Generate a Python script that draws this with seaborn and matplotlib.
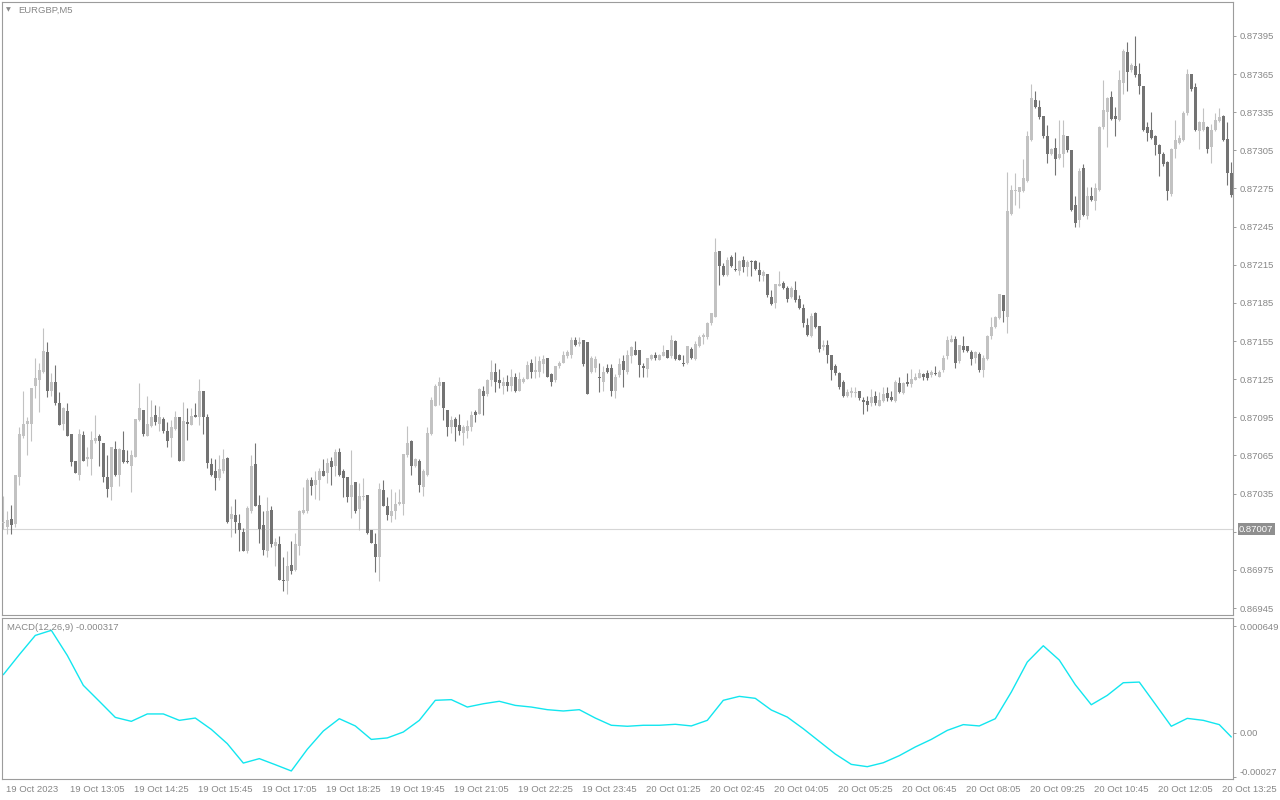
import numpy as np
import pandas as pd
import matplotlib
matplotlib.use("Agg")
import matplotlib.pyplot as plt
import matplotlib.transforms as mtransforms
import seaborn as sns

SYMBOL = "EURGBP,M5"
MACD_TEXT = "MACD(12,26,9) -0.000317"
BID = 0.87007

# OHLC of each M5 bar, in 1e-5 (points)
opens = [
    87012, 87009, 87015, 87011, 87048, 87080, 87090, 87090, 87120, 87124,
    87131, 87146, 87116, 87123, 87106, 87090, 87100, 87082, 87061, 87050,
    87081, 87062, 87062, 87076, 87080, 87075, 87048, 87040, 87070, 87050,
    87069, 87061, 87057, 87064, 87093, 87101, 87080, 87088, 87097, 87090,
    87094, 87084, 87079, 87086, 87095, 87061, 87091, 87089, 87097, 87095,
    87116, 87095, 87058, 87053, 87047, 87053, 87063, 87015, 87018, 87012,
    87005, 86990, 87021, 87058, 87026, 87010, 86990, 87022, 86994, 86995,
    86967, 86966, 86979, 86975, 86994, 87020, 87021, 87046, 87042, 87046,
    87053, 87051, 87061, 87057, 87068, 87053, 87048, 87032, 87044, 87023,
    87032, 87034, 87006, 86995, 86985, 87038, 87025, 87017, 87021, 87027,
    87027, 87065, 87076, 87057, 87061, 87040, 87050, 87082, 87104, 87120,
    87123, 87101, 87087, 87094, 87089, 87083, 87084, 87087, 87099, 87098,
    87116, 87113, 87124, 87131, 87124, 87120, 87123, 87120, 87127, 87116,
    87123, 87125, 87138, 87131, 87131, 87137, 87142, 87129, 87124, 87135,
    87138, 87143, 87144, 87156, 87153, 87156, 87154, 87131, 87134, 87127,
    87123, 87134, 87134, 87116, 87128, 87139, 87131, 87143, 87148, 87148,
    87135, 87133, 87141, 87144, 87140, 87143, 87148, 87143, 87155, 87144,
    87138, 87138, 87149, 87141, 87151, 87158, 87158, 87169, 87174, 87226,
    87214, 87207, 87221, 87212, 87210, 87219, 87213, 87218, 87218, 87211,
    87206, 87208, 87190, 87185, 87198, 87201, 87197, 87190, 87195, 87188,
    87181, 87168, 87159, 87177, 87167, 87150, 87152, 87144, 87135, 87130,
    87123, 87112, 87114, 87114, 87116, 87109, 87108, 87106, 87112, 87104,
    87108, 87114, 87111, 87108, 87122, 87114, 87123, 87121, 87124, 87126,
    87129, 87130, 87128, 87130, 87127, 87132, 87143, 87154, 87157, 87139,
    87151, 87151, 87146, 87142, 87145, 87132, 87141, 87159, 87166, 87173,
    87191, 87174, 87255, 87273, 87272, 87273, 87281, 87313, 87345, 87339,
    87332, 87316, 87302, 87307, 87299, 87302, 87316, 87305, 87262, 87250,
    87291, 87253, 87269, 87265, 87274, 87323, 87335, 87347, 87332, 87329,
    87358, 87382, 87368, 87371, 87365, 87356, 87323, 87321, 87316, 87309,
    87302, 87296, 87271, 87306, 87311, 87313, 87334, 87365, 87355, 87320,
    87321, 87323, 87308, 87321, 87328, 87332, 87314, 87287,
]
highs = [
    87033, 87021, 87026, 87050, 87087, 87116, 87095, 87118, 87142, 87138,
    87165, 87154, 87130, 87136, 87115, 87103, 87106, 87082, 87061, 87086,
    87084, 87072, 87084, 87097, 87082, 87075, 87065, 87072, 87076, 87071,
    87084, 87069, 87069, 87094, 87122, 87101, 87112, 87109, 87105, 87104,
    87095, 87091, 87093, 87100, 87095, 87107, 87102, 87102, 87106, 87125,
    87116, 87098, 87063, 87062, 87065, 87070, 87064, 87025, 87031, 87019,
    87008, 87025, 87065, 87075, 87034, 87021, 87032, 87025, 87000, 87002,
    86985, 86990, 86998, 87004, 87022, 87040, 87047, 87048, 87053, 87055,
    87062, 87063, 87064, 87070, 87071, 87054, 87048, 87069, 87044, 87043,
    87047, 87034, 87006, 87004, 87043, 87046, 87032, 87039, 87036, 87039,
    87066, 87088, 87077, 87063, 87062, 87054, 87087, 87111, 87121, 87127,
    87123, 87101, 87096, 87095, 87098, 87089, 87093, 87100, 87101, 87118,
    87120, 87125, 87140, 87138, 87133, 87127, 87128, 87133, 87130, 87131,
    87127, 87139, 87141, 87143, 87143, 87144, 87142, 87130, 87135, 87139,
    87147, 87148, 87158, 87158, 87158, 87156, 87154, 87143, 87143, 87138,
    87135, 87137, 87137, 87129, 87142, 87144, 87148, 87151, 87155, 87148,
    87138, 87142, 87145, 87146, 87145, 87152, 87148, 87160, 87156, 87145,
    87144, 87151, 87150, 87155, 87160, 87161, 87170, 87177, 87236, 87226,
    87216, 87221, 87223, 87225, 87219, 87222, 87219, 87219, 87219, 87217,
    87211, 87208, 87195, 87200, 87210, 87202, 87198, 87198, 87202, 87191,
    87184, 87173, 87177, 87178, 87167, 87156, 87156, 87144, 87137, 87131,
    87124, 87117, 87119, 87119, 87116, 87111, 87112, 87117, 87116, 87115,
    87119, 87119, 87116, 87124, 87127, 87123, 87130, 87133, 87130, 87133,
    87130, 87132, 87132, 87135, 87132, 87144, 87159, 87160, 87159, 87152,
    87159, 87151, 87148, 87147, 87146, 87144, 87160, 87174, 87175, 87192,
    87191, 87288, 87278, 87287, 87276, 87298, 87320, 87357, 87352, 87345,
    87332, 87325, 87307, 87315, 87329, 87329, 87316, 87305, 87269, 87291,
    87294, 87276, 87276, 87279, 87324, 87360, 87347, 87352, 87339, 87368,
    87385, 87390, 87374, 87395, 87374, 87356, 87327, 87335, 87317, 87310,
    87304, 87297, 87307, 87329, 87317, 87336, 87369, 87365, 87358, 87328,
    87338, 87324, 87326, 87334, 87338, 87333, 87327, 87296,
]
lows = [
    87007, 87003, 87003, 87009, 87042, 87079, 87065, 87076, 87110, 87099,
    87130, 87111, 87112, 87105, 87089, 87085, 87080, 87057, 87051, 87046,
    87061, 87057, 87050, 87075, 87057, 87044, 87032, 87030, 87049, 87041,
    87059, 87059, 87036, 87064, 87092, 87080, 87080, 87087, 87089, 87084,
    87083, 87072, 87064, 87085, 87061, 87061, 87077, 87089, 87095, 87089,
    87082, 87055, 87049, 87038, 87046, 87051, 87012, 87001, 87004, 86990,
    86990, 86988, 87020, 87025, 86996, 86987, 86985, 86993, 86978, 86967,
    86958, 86956, 86972, 86974, 86987, 87019, 87020, 87034, 87031, 87030,
    87049, 87043, 87042, 87049, 87049, 87032, 87028, 87016, 87020, 87006,
    87030, 87003, 86996, 86973, 86966, 87025, 87014, 87013, 87015, 87026,
    87018, 87064, 87050, 87056, 87036, 87033, 87049, 87081, 87104, 87105,
    87093, 87080, 87083, 87076, 87081, 87073, 87079, 87084, 87091, 87098,
    87097, 87112, 87120, 87115, 87118, 87113, 87116, 87116, 87115, 87116,
    87122, 87125, 87126, 87126, 87127, 87130, 87127, 87120, 87123, 87134,
    87138, 87142, 87142, 87151, 87151, 87135, 87113, 87130, 87131, 87115,
    87116, 87130, 87112, 87110, 87127, 87119, 87129, 87138, 87144, 87127,
    87127, 87127, 87140, 87140, 87140, 87143, 87142, 87142, 87140, 87140,
    87135, 87137, 87141, 87140, 87150, 87153, 87157, 87168, 87174, 87199,
    87206, 87206, 87213, 87210, 87207, 87209, 87206, 87206, 87211, 87202,
    87202, 87190, 87183, 87181, 87198, 87196, 87186, 87189, 87186, 87180,
    87166, 87159, 87158, 87165, 87146, 87148, 87138, 87124, 87128, 87117,
    87111, 87111, 87111, 87111, 87109, 87098, 87100, 87104, 87105, 87104,
    87107, 87108, 87108, 87107, 87114, 87113, 87120, 87119, 87124, 87126,
    87124, 87124, 87127, 87128, 87127, 87131, 87141, 87154, 87134, 87138,
    87146, 87146, 87136, 87138, 87131, 87127, 87140, 87157, 87165, 87172,
    87170, 87161, 87254, 87262, 87260, 87272, 87280, 87312, 87338, 87330,
    87315, 87295, 87301, 87286, 87298, 87292, 87304, 87257, 87245, 87245,
    87253, 87251, 87265, 87258, 87273, 87322, 87308, 87329, 87316, 87328,
    87349, 87352, 87367, 87363, 87349, 87320, 87312, 87314, 87301, 87285,
    87293, 87266, 87269, 87299, 87310, 87312, 87333, 87352, 87320, 87306,
    87320, 87303, 87295, 87320, 87327, 87312, 87278, 87268,
]
closes = [
    87012, 87014, 87010, 87050, 87082, 87090, 87092, 87118, 87126, 87132,
    87147, 87116, 87123, 87106, 87089, 87102, 87080, 87060, 87051, 87082,
    87061, 87064, 87077, 87079, 87076, 87048, 87039, 87072, 87050, 87070,
    87060, 87060, 87065, 87094, 87102, 87082, 87090, 87095, 87091, 87095,
    87084, 87076, 87087, 87095, 87061, 87092, 87090, 87096, 87095, 87116,
    87095, 87059, 87050, 87047, 87054, 87062, 87013, 87019, 87013, 87006,
    86990, 87024, 87057, 87025, 87007, 86991, 87021, 86995, 86997, 86967,
    86966, 86978, 86974, 86995, 87021, 87022, 87046, 87041, 87046, 87053,
    87049, 87059, 87056, 87068, 87050, 87047, 87032, 87042, 87021, 87033,
    87033, 87004, 86996, 86985, 87039, 87025, 87018, 87021, 87027, 87028,
    87066, 87075, 87057, 87062, 87042, 87053, 87083, 87109, 87120, 87123,
    87102, 87087, 87093, 87087, 87084, 87087, 87088, 87097, 87097, 87117,
    87112, 87124, 87131, 87123, 87122, 87123, 87120, 87127, 87116, 87125,
    87125, 87136, 87131, 87132, 87139, 87141, 87127, 87123, 87135, 87138,
    87144, 87146, 87156, 87152, 87154, 87137, 87113, 87142, 87141, 87126,
    87131, 87131, 87116, 87127, 87137, 87132, 87144, 87150, 87144, 87136,
    87134, 87142, 87144, 87142, 87144, 87146, 87142, 87156, 87141, 87140,
    87137, 87151, 87142, 87153, 87158, 87160, 87169, 87177, 87225, 87214,
    87207, 87219, 87214, 87211, 87218, 87213, 87217, 87217, 87212, 87207,
    87209, 87191, 87184, 87200, 87200, 87197, 87188, 87197, 87187, 87181,
    87169, 87160, 87175, 87166, 87149, 87152, 87144, 87132, 87130, 87119,
    87112, 87115, 87116, 87115, 87110, 87107, 87105, 87111, 87106, 87109,
    87113, 87110, 87109, 87123, 87115, 87122, 87121, 87125, 87127, 87130,
    87127, 87126, 87131, 87129, 87131, 87142, 87156, 87157, 87138, 87152,
    87148, 87147, 87141, 87146, 87132, 87142, 87159, 87166, 87174, 87192,
    87179, 87257, 87274, 87274, 87276, 87283, 87316, 87346, 87339, 87331,
    87316, 87302, 87306, 87298, 87302, 87317, 87305, 87258, 87248, 87289,
    87254, 87269, 87266, 87275, 87323, 87337, 87346, 87330, 87330, 87360,
    87383, 87367, 87372, 87364, 87356, 87321, 87319, 87315, 87309, 87302,
    87294, 87273, 87306, 87313, 87315, 87334, 87365, 87353, 87321, 87327,
    87327, 87306, 87321, 87329, 87331, 87313, 87287, 87270,
]

# time axis labels, one every 16 bars
time_labels = [
    "19 Oct 2023", "19 Oct 13:05", "19 Oct 14:25", "19 Oct 15:45", "19 Oct 17:05",
    "19 Oct 18:25", "19 Oct 19:45", "19 Oct 21:05", "19 Oct 22:25", "19 Oct 23:45",
    "20 Oct 01:25", "20 Oct 02:45", "20 Oct 04:05", "20 Oct 05:25", "20 Oct 06:45",
    "20 Oct 08:05", "20 Oct 09:25", "20 Oct 10:45", "20 Oct 12:05", "20 Oct 13:25",
]
label_every = 16

price_ticks = [0.86945, 0.86975, 0.87005, 0.87035, 0.87065, 0.87095, 0.87125, 0.87155,
               0.87185, 0.87215, 0.87245, 0.87275, 0.87305, 0.87335, 0.87365, 0.87395]

# MACD main line (x 1e-6), read every 4th bar plus the last bar
macd_bars = list(range(0, 305, 4)) + [307]
macd_vals = [
    353, 475, 592, 623, 470, 288, 191, 93, 69, 114,
    114, 75, 89, 20, -67, -185, -158, -195, -233, -101,
    10, 85, 41, -41, -32, 4, 75, 197, 201, 156,
    176, 191, 166, 156, 140, 132, 140, 89, 45, 39,
    45, 45, 51, 41, 75, 197, 221, 209, 138, 95,
    24, -53, -130, -193, -207, -183, -140, -87, -41, 14,
    49, 41, 85, 247, 430, 529, 442, 292, 170, 227,
    304, 308, 174, 39, 87, 75, 49, -26,
]
macd_ticks = [-0.00027, 0.0, 0.000649]
macd_tick_labels = ["-0.00027", "0.00", "0.000649"]

UP_COLOR = "#c2c2c2"
DOWN_COLOR = "#737373"
FRAME = "#9c9c9c"
TEXT = "#878787"
MACD_COLOR = "#12e6ef"

sns.set_style("white")
plt.rcParams["font.family"] = ["Liberation Sans", "DejaVu Sans"]
plt.rcParams["font.size"] = 6.8

df = pd.DataFrame({
    "open": np.array(opens) / 1e5,
    "high": np.array(highs) / 1e5,
    "low": np.array(lows) / 1e5,
    "close": np.array(closes) / 1e5,
})
df["bar"] = np.arange(len(df))
up = df["close"] >= df["open"]
colors = np.where(up, UP_COLOR, DOWN_COLOR)

W, H = 1280, 800
fig = plt.figure(figsize=(12.8, 8), dpi=100)
ax = fig.add_axes([2 / W, 1 - 615 / H, 1231 / W, 613 / H])
mx = fig.add_axes([2 / W, 1 - 779 / H, 1231 / W, 161 / H])

# candles
ax.vlines(df["bar"], df["low"], df["high"], colors=colors, linewidth=0.8, zorder=2)
body = (df["close"] - df["open"]).abs().clip(lower=0.000008)
ax.bar(df["bar"], body, bottom=df[["open", "close"]].min(axis=1), width=0.75,
       color=colors, linewidth=0, zorder=3)
ax.axhline(BID, color="#d6d6d6", linewidth=0.8, zorder=1)

ax.set_xlim(-0.33, 307.43)
ax.set_ylim(0.869395, 0.874217)
ax.yaxis.tick_right()
ax.set_yticks(price_ticks)
# the tick under the bid box keeps its mark but no label (the box hides it)
ax.set_yticklabels(["" if abs(t - BID) < 0.0001 else f"{t:.5f}" for t in price_ticks])
ax.tick_params(axis="y", direction="out", length=2.5, width=0.7, color=FRAME,
               labelcolor=TEXT, labelsize=6.8, pad=2.5)
ax.tick_params(axis="x", bottom=False, labelbottom=False)
ax.annotate(f"{BID:.5f}", xy=(1, BID), xycoords=("axes fraction", "data"),
            xytext=(6, 0), textcoords="offset pixels", ha="left", va="center",
            color="white", fontsize=6.8, zorder=10, annotation_clip=False,
            bbox=dict(boxstyle="square,pad=0.15", fc="#8f8f8f", ec="none"))

# MACD panel
sns.lineplot(x=macd_bars, y=np.array(macd_vals) * 1e-6, ax=mx, color=MACD_COLOR,
             linewidth=1.0)
mx.set_xlim(-0.33, 307.43)
mx.set_ylim(-0.000282, 0.000698)
mx.yaxis.tick_right()
mx.set_yticks(macd_ticks)
mx.set_yticklabels(macd_tick_labels)
mx.get_yticklabels()[0].set_va("bottom")
mx.tick_params(axis="y", direction="out", length=2.5, width=0.7, color=FRAME,
               labelcolor=TEXT, labelsize=6.8, pad=2.5)
mx.set_xticks(np.arange(len(time_labels)) * label_every)
mx.set_xticklabels(time_labels, ha="left")
mx.tick_params(axis="x", direction="out", length=3.5, width=0.7, color=FRAME,
               labelcolor=TEXT, labelsize=6.8, pad=1)
shift = mtransforms.ScaledTranslation(3 / 100, 0, fig.dpi_scale_trans)
for lab in mx.get_xticklabels():
    lab.set_transform(lab.get_transform() + shift)
mx.set_xlabel("")
mx.set_ylabel("")

for a in (ax, mx):
    for s in a.spines.values():
        s.set_visible(True)
        s.set_color(FRAME)
        s.set_linewidth(0.8)

fig.text(6 / W, 1 - 10 / H, "\u25bc", fontsize=4.5, color="#8a8a8a",
         va="center", ha="left", family=["DejaVu Sans"])
fig.text(18 / W, 1 - 10 / H, SYMBOL, color=TEXT, va="center", ha="left")
fig.text(7 / W, 1 - 627 / H, MACD_TEXT, color=TEXT, va="center", ha="left")

fig.savefig("out.png", dpi=100, facecolor="white")
